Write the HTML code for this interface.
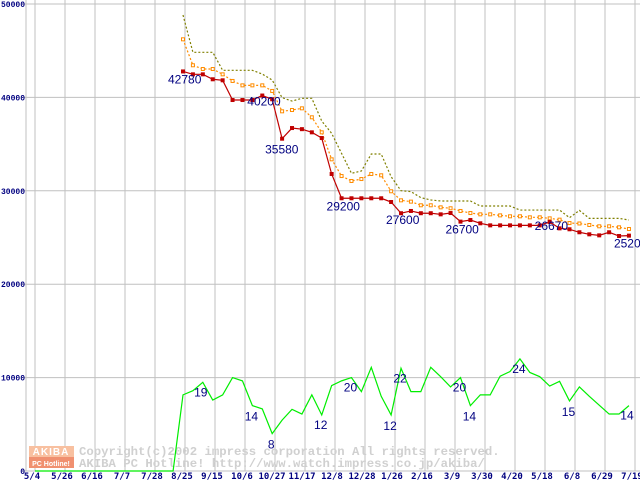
<!DOCTYPE html>
<html><head><meta charset="utf-8"><style>
html,body{margin:0;padding:0;background:#fff;}
svg{display:block;}
</style></head><body>
<svg id="chart" width="640" height="480" xmlns="http://www.w3.org/2000/svg" font-family="Liberation Sans, sans-serif"></svg>
<script>
const xLabels=["5/4","5/26","6/16","7/7","7/28","8/25","9/15","10/6","10/27","11/17","12/8","12/28","1/26","2/16","3/9","3/30","4/20","5/18","6/8","6/29","7/19"];
const yTicks=[0,10000,20000,30000,40000,50000];
const minPrice=[42780,42470,42470,41940,41830,39720,39720,39720,40200,39800,35580,36720,36600,36260,35650,31800,29200,29200,29200,29200,29200,28800,27600,27840,27600,27600,27480,27620,26700,26870,26520,26300,26300,26300,26300,26300,26300,26670,25980,25880,25560,25340,25230,25560,25160,25200];
const avgPrice=[46220,43440,43040,43040,42470,41760,41290,41290,41290,40690,38510,38650,38830,37870,36260,33370,31580,31050,31260,31800,31660,29950,28980,28840,28450,28450,28230,28130,27840,27620,27480,27480,27370,27270,27270,27160,27160,27050,26910,26550,26500,26340,26200,26200,26090,25910];
const maxPrice=[48820,44830,44830,44830,42900,42900,42900,42900,42500,41860,39970,39610,39900,39900,37470,36150,34010,31870,32120,33940,33940,31510,30010,29910,29270,29020,28910,28910,28910,28910,28370,28370,28370,28370,27940,27940,27940,27940,27940,27120,27900,27050,27050,27050,27050,26870];
const shopCount=[16.3,17.2,19,15.2,16.3,20,19.3,14,13.3,8,10.9,13.2,12.2,16.3,12,18.3,19.3,20,17,22.2,16,12,22,17,17,22.2,20.2,18,20,14,16.3,16.3,20.3,21.3,24,21.1,20.2,18.2,19.2,15,18,16,14.1,12.2,12.2,14];
const priceLabels=[[0,"42780",-15,12],[8,"40200",-15,10],[10,"35580",-17,15],[16,"29200",-15,12],[22,"27600",-15,11],[28,"26700",-15,12],[37,"26670",-15,8],[45,"25200",-15,12]];
const countLabels=[[2,"19",-2,14],[7,"14",-1,15],[9,"8",-1,15],[14,"12",-1,14],[17,"20",-1,14],[21,"12",-1,15],[22,"22",-1,14],[28,"20",-1,14],[29,"14",-1,15],[34,"24",-1,14],[39,"15",-1,15],[45,"14",-2,14]];
const countScale=500;

const NS="http://www.w3.org/2000/svg";
const svg=document.getElementById('chart');
function el(t,a,p){const e=document.createElementNS(NS,t);for(const k in a)e.setAttribute(k,a[k]);(p||svg).appendChild(e);return e;}
const yS=v=>471-v*0.00934;
const xI=i=>183+i*9.91;
const xG=j=>35+j*30;

const grid=el('g',{});


xLabels.forEach((l,j)=>{
 const ln=el('line',{x1:xG(j),x2:xG(j),y1:0,y2:471,stroke:'#c0c0c0','stroke-width':1},grid);
 
 
 const t=el('text',{x:xG(j)-3,y:479,'text-anchor':'middle','font-size':9,'font-weight':'bold',fill:'#000080','font-family':'DejaVu Sans Mono, monospace'});
 t.textContent=l;
 
 
});
yTicks.forEach(v=>{
 const y=yS(v);
 const ln=el('line',{x1:21,x2:640,y1:y,y2:y,stroke:'#c0c0c0','stroke-width':1},grid);
 
 
 const t=el('text',{x:25,y:y+3,'text-anchor':'end','font-size':8,'font-weight':'bold',fill:'#000080','font-family':'Liberation Mono, monospace'});
 t.textContent=String(v);
 
 
});
const ax=el('line',{x1:26,x2:26,y1:0,y2:471,stroke:'#c0c0c0','stroke-width':1});



const wm=el('g',{});


el('rect',{x:29,y:446,width:45,height:11,fill:'#f8c0a0'},wm);
el('rect',{x:29,y:457,width:45,height:11,fill:'#f09070'},wm);
const t1=el('text',{x:51,y:455,'text-anchor':'middle','font-size':10,'font-weight':'bold',fill:'#fff','letter-spacing':'1'},wm);t1.textContent='AKIBA';
const t2=el('text',{x:51,y:466,'text-anchor':'middle','font-size':7,'font-weight':'bold',fill:'#fff'},wm);t2.textContent='PC Hotline!';
const c1=el('text',{x:79,y:455,'font-size':12.3,'font-weight':'bold',fill:'#d0d0d0','font-family':'Liberation Mono, monospace'},wm);c1.textContent='Copyright(c)2002 impress corporation All rights reserved.';
const c2=el('text',{x:79,y:467,'font-size':12.3,'font-weight':'bold',fill:'#d0d0d0','font-family':'Liberation Mono, monospace','xml:space':'preserve'},wm);c2.textContent='AKIBA PC Hotline!  http://www.watch.impress.co.jp/akiba/';

let gp=`M${xG(0)},${yS(0)} L${xI(-1)},${yS(0)}`;
shopCount.forEach((c,i)=>{gp+=` L${xI(i)},${yS(c*countScale)}`;});
const g=el('path',{d:gp,fill:'none',stroke:'#00ee00','stroke-width':1.2});



function line(arr,color,dash,name){
 const p=el('path',{d:arr.map((v,i)=>(i?'L':'M')+xI(i)+','+yS(v)).join(' '),fill:'none',stroke:color,'stroke-width':1.2,'stroke-dasharray':dash||'none'});
 
 
}
line(maxPrice,'#808000','2,2','max-price-line');
line(avgPrice,'#ff8c00','2,2','avg-price-line');
avgPrice.forEach((v,i)=>{
 const r=el('rect',{x:xI(i)-1.5,y:yS(v)-1.5,width:3,height:3,fill:'#fff',stroke:'#ff8c00','stroke-width':1});
 
 
});
line(minPrice,'#c00000',null,'min-price-line');
minPrice.forEach((v,i)=>{
 const r=el('rect',{x:xI(i)-2,y:yS(v)-2,width:4,height:4,fill:'#c00000'});
 
 
});
priceLabels.forEach(([i,s,dx,dy])=>{
 const t=el('text',{x:xI(i)+dx,y:yS(minPrice[i])+dy,'font-size':12,fill:'#000080'});
 t.textContent=s;
 
 
});
countLabels.forEach(([i,s,dx,dy])=>{
 const t=el('text',{x:xI(i)+dx,y:yS(shopCount[i]*countScale)+dy,'font-size':12,fill:'#000080','text-anchor':'middle'});
 t.textContent=s;
 
 
});
</script>
</body></html>
